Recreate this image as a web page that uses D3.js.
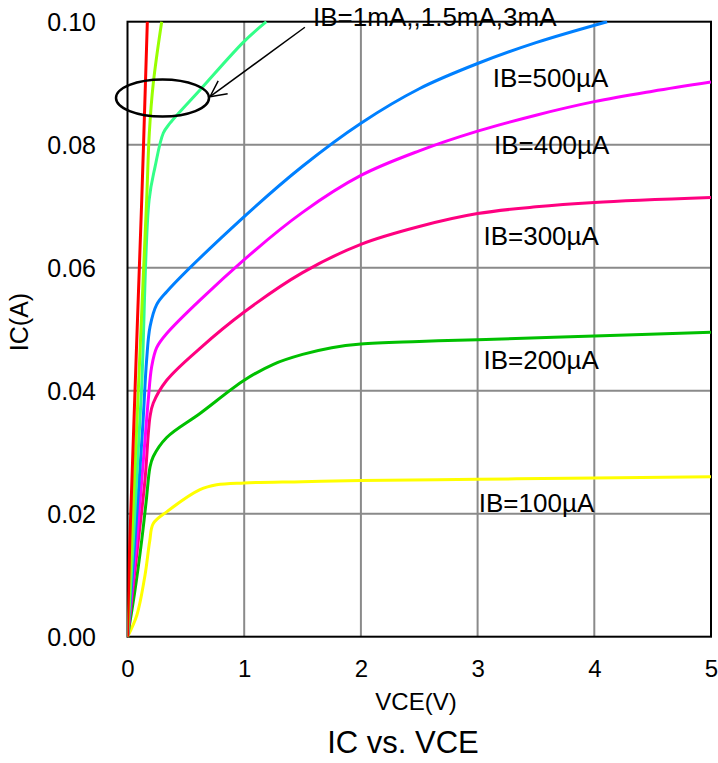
<!DOCTYPE html>
<html>
<head>
<meta charset="utf-8">
<script src="https://cdn.jsdelivr.net/npm/d3@7"></script>
<style>
  body { margin: 0; background: #fff; }
  text { font-family: Arial, "Liberation Sans", sans-serif; fill: #000; }
</style>
</head>
<body>
<div id="chart"></div>
<script>
// series: VCE in volts, IC in amps
const seriesNames = ['3mA', '1.5mA', '1mA', '500µA', '400µA', '300µA', '200µA', '100µA'];
const seriesColors = ['#ff0000', '#99ff00', '#33ff88', '#0080ff', '#ff00ff', '#ff0080', '#00c000', '#ffff00'];

const vce3mA = [0, 0.02, 0.122, 0.17];
const ic3mA = [0, 0.0157, 0.071, 0.10];
const vce1p5mA = [0, 0.036, 0.164, 0.187, 0.221, 0.293];
const ic1p5mA = [0, 0.0157, 0.071, 0.0819, 0.09, 0.10];
const vce1mA = [0, 0.05, 0.12, 0.185, 0.236, 0.307, 0.364, 0.621, 1.0, 1.19];
const ic1mA = [0, 0.0157, 0.040, 0.071, 0.0764, 0.0819, 0.0835, 0.0889, 0.0968, 0.10];
const vce500 = [0, 0.064, 0.13, 0.164, 0.193, 0.25, 0.336, 1.0, 1.5, 2.0, 2.5, 3.0, 3.5, 4.11];
const ic500 = [0, 0.0157, 0.034, 0.045, 0.0504, 0.054, 0.0561, 0.0683, 0.0765, 0.0835, 0.0891, 0.0932, 0.0966, 0.100];
const vce400 = [0, 0.079, 0.15, 0.178, 0.207, 0.25, 0.336, 1.0, 1.5, 2.0, 2.5, 3.0, 3.5, 4.0, 4.5, 5.0];
const ic400 = [0, 0.0157, 0.032, 0.0385, 0.0439, 0.047, 0.0493, 0.0613, 0.069, 0.075, 0.079, 0.0822, 0.0848, 0.087, 0.0887, 0.0902];
const vce300 = [0, 0.093, 0.15, 0.193, 0.221, 0.336, 0.621, 1.0, 1.5, 2.0, 2.5, 3.0, 3.5, 4.0, 5.0];
const ic300 = [0, 0.0157, 0.0255, 0.0358, 0.038, 0.0417, 0.0469, 0.0528, 0.0592, 0.0638, 0.0667, 0.0688, 0.0699, 0.0706, 0.0714];
const vce200 = [0, 0.06, 0.122, 0.16, 0.193, 0.221, 0.336, 0.621, 1.0, 1.25, 1.5, 1.75, 2.0, 2.5, 3.0, 4.0, 5.0];
const ic200 = [0, 0.007, 0.0157, 0.022, 0.0276, 0.0293, 0.0324, 0.0363, 0.0417, 0.0443, 0.0459, 0.047, 0.0476, 0.048, 0.0483, 0.0489, 0.0495];
const vce100 = [0, 0.08, 0.15, 0.19, 0.221, 0.336, 0.621, 0.764, 1.0, 1.5, 2.0, 3.0, 4.0, 5.0];
const ic100 = [0, 0.0035, 0.010, 0.0155, 0.0184, 0.0203, 0.0239, 0.0247, 0.0250, 0.0252, 0.0254, 0.0256, 0.0258, 0.0260];

const xTicks = [0, 1, 2, 3, 4, 5];
const yTicks = [0, 0.02, 0.04, 0.06, 0.08, 0.10];

// curve labels: [text, VCE, IC]
const curveLabels = [
  ['IB=500µA', 3.13, 0.0894],
  ['IB=400µA', 3.14, 0.0785],
  ['IB=300µA', 3.05, 0.0637],
  ['IB=200µA', 3.05, 0.0436],
  ['IB=100µA', 3.01, 0.0202]
];
const noteText = 'IB=1mA,,1.5mA,3mA';

const width = 718;
const height = 763;
const plotL = 127.5, plotR = 711, plotT = 21.7, plotB = 636.7;

const xScale = d3.scaleLinear().domain([0, 5]).range([plotL, plotR]);
const yScale = d3.scaleLinear().domain([0, 0.1]).range([plotB, plotT]);

const svg = d3.select('#chart')
  .append('svg')
  .attr('width', width)
  .attr('height', height);

// grid
svg.append('g')
  .selectAll('line')
  .data(xTicks.slice(1, -1))
  .enter()
  .append('line')
  .attr('x1', d => xScale(d)).attr('x2', d => xScale(d))
  .attr('y1', plotT).attr('y2', plotB)
  .attr('stroke', '#8a8a8a').attr('stroke-width', 2);

svg.append('g')
  .selectAll('line')
  .data(yTicks.slice(1, -1))
  .enter()
  .append('line')
  .attr('y1', d => yScale(d)).attr('y2', d => yScale(d))
  .attr('x1', plotL).attr('x2', plotR)
  .attr('stroke', '#8a8a8a').attr('stroke-width', 2);

// frame
svg.append('rect')
  .attr('x', plotL).attr('y', plotT)
  .attr('width', plotR - plotL).attr('height', plotB - plotT)
  .attr('fill', 'none').attr('stroke', '#000').attr('stroke-width', 2);

const defs = svg.append('defs');
defs.append('clipPath')
  .attr('id', 'plot')
  .append('rect')
  .attr('x', plotL).attr('y', plotT - 1)
  .attr('width', plotR - plotL).attr('height', plotB - plotT + 2);

const line = d3.line()
  .x(d => xScale(d[0]))
  .y(d => yScale(d[1]))
  .curve(d3.curveCatmullRom.alpha(0.5));

const vceAll = [vce100, vce200, vce300, vce400, vce500, vce1mA, vce1p5mA, vce3mA];
const icAll = [ic100, ic200, ic300, ic400, ic500, ic1mA, ic1p5mA, ic3mA];
const colorsDrawn = seriesColors.slice().reverse();

svg.append('g')
  .attr('clip-path', 'url(#plot)')
  .selectAll('path')
  .data(vceAll.map((v, i) => v.map((x, j) => [x, icAll[i][j]])))
  .enter()
  .append('path')
  .attr('d', line)
  .attr('fill', 'none')
  .attr('stroke', (d, i) => colorsDrawn[i])
  .attr('stroke-width', 3)
  .attr('stroke-linejoin', 'round');

// axes labels
const xAxis = d3.axisBottom(xScale).tickValues(xTicks).tickSize(0).tickPadding(0).tickFormat(d3.format('d'));
const yAxis = d3.axisLeft(yScale).tickValues(yTicks).tickSize(0).tickPadding(0).tickFormat(d3.format('.2f'));

const gx = svg.append('g')
  .attr('id', 'x-axis')
  .attr('transform', 'translate(0,' + plotB + ')')
  .call(xAxis);
gx.select('.domain').remove();
gx.selectAll('text')
  .attr('y', 40).attr('dy', null)
  .style('font-size', '24px').style('font-family', 'Arial, "Liberation Sans", sans-serif');

const gy = svg.append('g')
  .attr('id', 'y-axis')
  .attr('transform', 'translate(' + 96 + ',0)')
  .call(yAxis);
gy.select('.domain').remove();
gy.selectAll('text')
  .attr('x', 0).attr('dy', '0.36em')
  .style('font-size', '25px').style('font-family', 'Arial, "Liberation Sans", sans-serif');

svg.append('text')
  .attr('x', 416).attr('y', 710)
  .attr('text-anchor', 'middle')
  .style('font-size', '24px')
  .text('VCE(V)');

svg.append('text')
  .attr('x', 403).attr('y', 753)
  .attr('text-anchor', 'middle')
  .style('font-size', '31px')
  .text('IC vs. VCE');

svg.append('text')
  .attr('transform', 'translate(28,322) rotate(-90)')
  .attr('text-anchor', 'middle')
  .style('font-size', '25px')
  .text('IC(A)');

// curve labels
svg.append('g')
  .selectAll('text')
  .data(curveLabels)
  .enter()
  .append('text')
  .attr('x', d => xScale(d[1]))
  .attr('y', d => yScale(d[2]))
  .style('font-size', '26px')
  .text(d => d[0]);

// annotation: ellipse + arrow + note
svg.append('ellipse')
  .attr('cx', xScale(0.30)).attr('cy', yScale(0.0876))
  .attr('rx', 46.5).attr('ry', 18.5)
  .attr('fill', 'none').attr('stroke', '#000').attr('stroke-width', 2.5);

defs.append('marker')
  .attr('id', 'head')
  .attr('viewBox', '0 0 20 20')
  .attr('refX', 18).attr('refY', 10)
  .attr('markerWidth', 20).attr('markerHeight', 20)
  .attr('markerUnits', 'userSpaceOnUse')
  .attr('orient', 'auto')
  .append('path')
  .attr('d', 'M2,2 L18,10 L2,18')
  .attr('fill', 'none').attr('stroke', '#000').attr('stroke-width', 1.5);

svg.append('line')
  .attr('x1', xScale(1.52)).attr('y1', yScale(0.0991))
  .attr('x2', xScale(0.707)).attr('y2', yScale(0.0878))
  .attr('stroke', '#000').attr('stroke-width', 1.5)
  .attr('marker-end', 'url(#head)');

svg.append('text')
  .attr('x', xScale(1.59)).attr('y', 26)
  .style('font-size', '26px')
  .text(noteText);
</script>
</body>
</html>
